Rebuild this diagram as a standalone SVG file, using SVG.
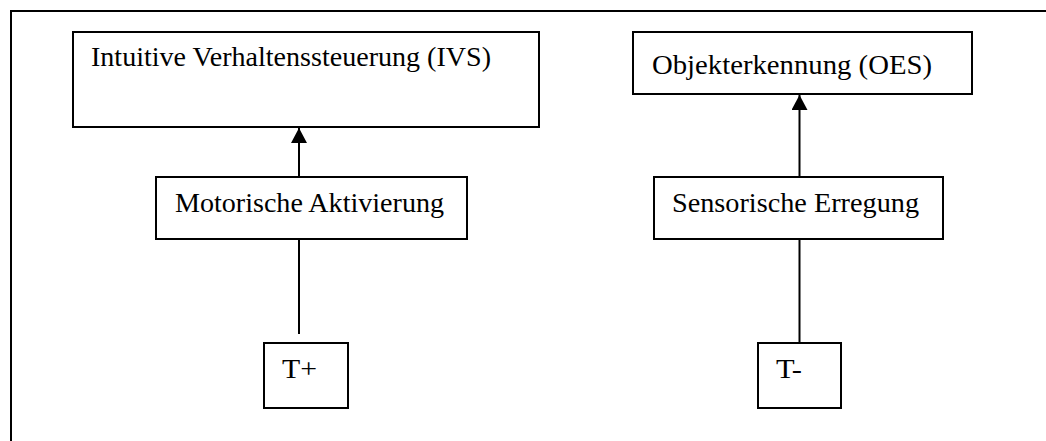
<svg xmlns="http://www.w3.org/2000/svg" width="1046" height="441" viewBox="0 0 1046 441">
<style>
.box{fill:#fff;stroke:#000;stroke-width:2}
.t{font-family:"Liberation Serif","DejaVu Serif",serif;font-size:28px;fill:#000}
.ln{stroke:#000;stroke-width:2;fill:none}
</style>
<defs>
<marker id="ah" viewBox="0 0 15 16" refX="15" refY="8" markerWidth="15" markerHeight="16" markerUnits="userSpaceOnUse" orient="auto">
<path d="M0,0 L15,8 L0,16 Z" fill="#000"/>
</marker>
</defs>
<rect width="1046" height="441" fill="#fff"/>
<path class="ln" d="M11,441 V11 H1046"/>
<g id="ivs"><rect class="box" x="73" y="32" width="466" height="95"/><text class="t" x="91" y="66" textLength="400" lengthAdjust="spacingAndGlyphs">Intuitive Verhaltenssteuerung (IVS)</text></g>
<g id="oes"><rect class="box" x="633" y="32" width="339" height="62"/><text class="t" x="652" y="74" textLength="280" lengthAdjust="spacingAndGlyphs">Objekterkennung (OES)</text></g>
<g id="motor"><rect class="box" x="156" y="177" width="311" height="62"/><text class="t" x="175" y="212" textLength="269" lengthAdjust="spacingAndGlyphs">Motorische Aktivierung</text></g>
<g id="sens"><rect class="box" x="654" y="177" width="289" height="62"/><text class="t" x="672" y="212" textLength="247" lengthAdjust="spacingAndGlyphs">Sensorische Erregung</text></g>
<g id="tplus"><rect class="box" x="264" y="343" width="84" height="65"/><text class="t" x="282" y="378" textLength="35" lengthAdjust="spacingAndGlyphs">T+</text></g>
<g id="tminus"><rect class="box" x="758" y="343" width="83" height="65"/><text class="t" x="776" y="378" textLength="26" lengthAdjust="spacingAndGlyphs">T-</text></g>
<g id="connectors">
<line class="ln" x1="299" y1="177" x2="299" y2="128" marker-end="url(#ah)"/>
<line class="ln" x1="799.5" y1="177" x2="799.5" y2="95" marker-end="url(#ah)"/>
<line class="ln" x1="299" y1="239" x2="299" y2="334"/>
<line class="ln" x1="799.5" y1="239" x2="799.5" y2="343"/>
</g>
</svg>
